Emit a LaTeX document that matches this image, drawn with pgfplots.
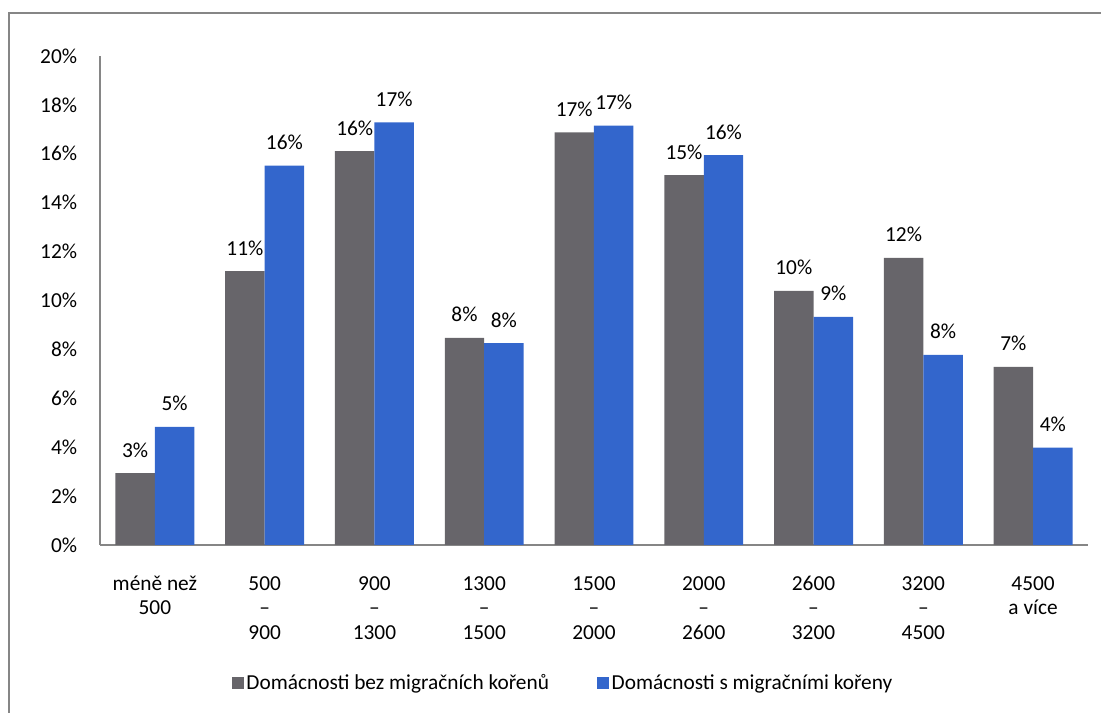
\documentclass[border=0pt]{standalone}
\usepackage{pgfplots}
\pgfplotsset{compat=1.18}
\usepackage{fontspec}
\setmainfont{Carlito}
\definecolor{bargray}{RGB}{103,101,106}
\definecolor{barblue}{RGB}{51,102,204}
\definecolor{linegray}{RGB}{134,134,134}
\begin{document}
\begin{tikzpicture}[x=0.75pt,y=0.75pt]
\clip (0,0) rectangle (1101,713);
\useasboundingbox (0,0) rectangle (1101,713);
% outer frame (runs off the right and bottom edge)
\draw[linegray, line width=1.5pt] (9,-20) -- (9,700) -- (1200,700);
\begin{axis}[
  at={(75pt,126pt)}, anchor=south west,
  scale only axis, width=741pt, height=366.75pt,
  font=\fontsize{16}{18.4}\selectfont,
  /pgf/number format/assume math mode=true,
  ybar=0pt, bar width=29.6pt,
  xmin=0.5, xmax=9.5, ymin=0, ymax=20,
  axis x line=bottom, axis y line=left,
  axis line style={linegray, line width=1.3pt, -},
  major tick length=0pt,
  xtick={1,...,9},
  xticklabels={\strut méně než\\500, \strut 500\\–\\900, \strut 900\\–\\1300,
    \strut 1300\\–\\1500, \strut 1500\\–\\2000, \strut 2000\\–\\2600,
    \strut 2600\\–\\3200, \strut 3200\\–\\4500, \strut 4500\\a více},
  xticklabel style={align=center, inner sep=0pt, yshift=-20.9pt},
  ytick={0,2,...,20},
  yticklabel={\pgfmathprintnumber{\tick}\%},
  yticklabel style={inner sep=0pt, xshift=-17pt},
  nodes near coords={\pgfmathprintnumber[fixed,precision=0]{\pgfplotspointmeta}\%},
  nodes near coords style={anchor=base, inner sep=0pt, yshift=12pt, text=black},
  legend style={at={(0.469,-0.282)}, anchor=center, draw=none, fill=none,
    legend columns=2, font=\fontsize{16}{18.4}\selectfont,
    /tikz/every even column/.append style={column sep=34pt}},
  legend image code/.code={\path[#1, draw=none] (0pt,-4.5pt) rectangle (9pt,4.5pt);},
]
\addplot[fill=bargray, draw=none] coordinates {
  (1,2.94) (2,11.20) (3,16.11) (4,8.47) (5,16.88)
  (6,15.13) (7,10.39) (8,11.74) (9,7.29)};
\addplot[fill=barblue, draw=none] coordinates {
  (1,4.83) (2,15.52) (3,17.29) (4,8.26) (5,17.15)
  (6,15.95) (7,9.33) (8,7.78) (9,3.98)};
\legend{Domácnosti bez migračních kořenů, Domácnosti s migračními kořeny}
\end{axis}
\end{tikzpicture}
\end{document}
